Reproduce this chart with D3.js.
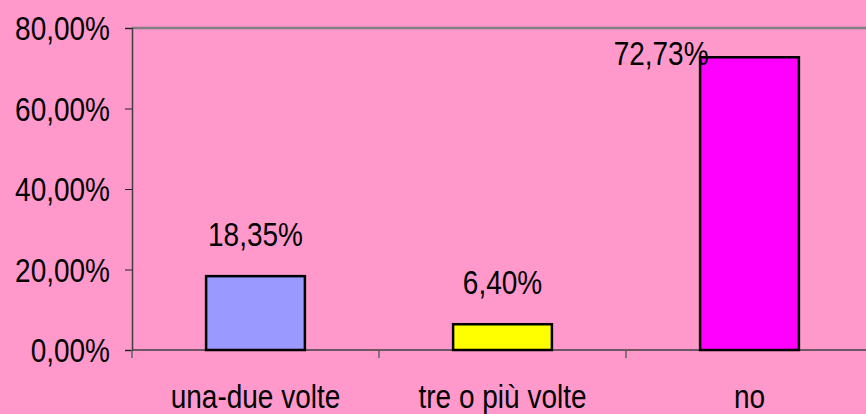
<!DOCTYPE html>
<html>
<head>
<meta charset="utf-8">
<script src="https://cdnjs.cloudflare.com/ajax/libs/d3/7.8.5/d3.min.js"></script>
<style>
  body { margin: 0; background: #ff99cc; }
  svg { display: block; }
  text { font-family: "Liberation Sans", Arial, sans-serif; fill: #000; }
</style>
</head>
<body>
<div id="chart"></div>
<script>
// dati
var categorie = ["una-due volte", "tre o più volte", "no"];
var valori = [18.35, 6.40, 72.73];
var colori = ["#9999ff", "#ffff00", "#ff00ff"];
var yTicks = [0, 20, 40, 60, 80];

var width = 866, height = 414;
var margin = { top: 28, left: 132, bottom: 350 };
var stretch = 1.18; // testo un po' allungato in verticale come nell'originale

var svg = d3.select('#chart').append('svg')
  .attr('width', width)
  .attr('height', height);

svg.append('rect').attr('width', width).attr('height', height).attr('fill', '#ff99cc');

var x = d3.scaleBand()
  .domain(categorie)
  .range([margin.left, margin.left + 3 * 247])
  .paddingInner(0.6)
  .paddingOuter(0.3);

var y = d3.scaleLinear()
  .domain([0, 80])
  .range([margin.bottom, margin.top]);

var fmt = function (v) { return d3.format('.2f')(v).replace('.', ',') + '%'; };

// bordo superiore area grafico
svg.append('line')
  .attr('x1', margin.left).attr('x2', width)
  .attr('y1', y(80)).attr('y2', y(80))
  .attr('stroke', '#808080').attr('stroke-width', 2.5);

// asse y
var yAxis = svg.append('g')
  .attr('transform', 'translate(' + margin.left + ',0)')
  .call(d3.axisLeft(y).tickValues(yTicks).tickFormat(function (d) { return fmt(d); }).tickSize(7).tickPadding(15));
yAxis.select('.domain').attr('stroke', '#404040').attr('stroke-width', 1.5);
yAxis.selectAll('.tick line').attr('stroke', '#202020');
yAxis.selectAll('.tick text')
  .attr('font-size', '28px')
  .attr('font-family', '"Liberation Sans", Arial, sans-serif')
  .attr('fill', '#000')
  .attr('dy', null)
  .attr('transform', 'translate(-22,11.5) scale(1,' + stretch + ')')
  .attr('x', 0);

// asse x con tacche ai confini delle categorie
svg.append('line')
  .attr('x1', margin.left).attr('x2', width)
  .attr('y1', y(0)).attr('y2', y(0))
  .attr('stroke', '#404040').attr('stroke-width', 1.5);
svg.selectAll('.xtick')
  .data(d3.range(categorie.length + 1))
  .enter().append('line')
  .attr('x1', function (i) { return margin.left + i * x.step(); })
  .attr('x2', function (i) { return margin.left + i * x.step(); })
  .attr('y1', y(0)).attr('y2', y(0) + 8)
  .attr('stroke', '#606060').attr('stroke-width', 1.5);

svg.selectAll('.xlab')
  .data(categorie)
  .enter().append('text')
  .attr('transform', function (d) {
    return 'translate(' + (x(d) + x.bandwidth() / 2) + ',408) scale(1,' + stretch + ')';
  })
  .attr('text-anchor', 'middle')
  .attr('font-size', '28px')
  .text(function (d) { return d; });

// barre
svg.selectAll('.bar')
  .data(valori)
  .enter().append('rect')
  .attr('x', function (d, i) { return x(categorie[i]); })
  .attr('y', function (d) { return y(d); })
  .attr('width', x.bandwidth())
  .attr('height', function (d) { return y(0) - y(d); })
  .attr('fill', function (d, i) { return colori[i]; })
  .attr('stroke', '#000')
  .attr('stroke-width', 2.5);

// etichette dati (quella troppo in alto va a sinistra della barra)
svg.selectAll('.lab')
  .data(valori)
  .enter().append('text')
  .attr('transform', function (d, i) {
    var alta = y(d) - 54 < margin.top;
    var lx = alta ? x(categorie[i]) - 39 : x(categorie[i]) + x.bandwidth() / 2;
    var ly = alta ? y(d) + 8 : y(d) - 30;
    return 'translate(' + lx + ',' + ly + ') scale(1,' + stretch + ')';
  })
  .attr('text-anchor', 'middle')
  .attr('font-size', '28px')
  .text(function (d) { return fmt(d); });
</script>
</body>
</html>
